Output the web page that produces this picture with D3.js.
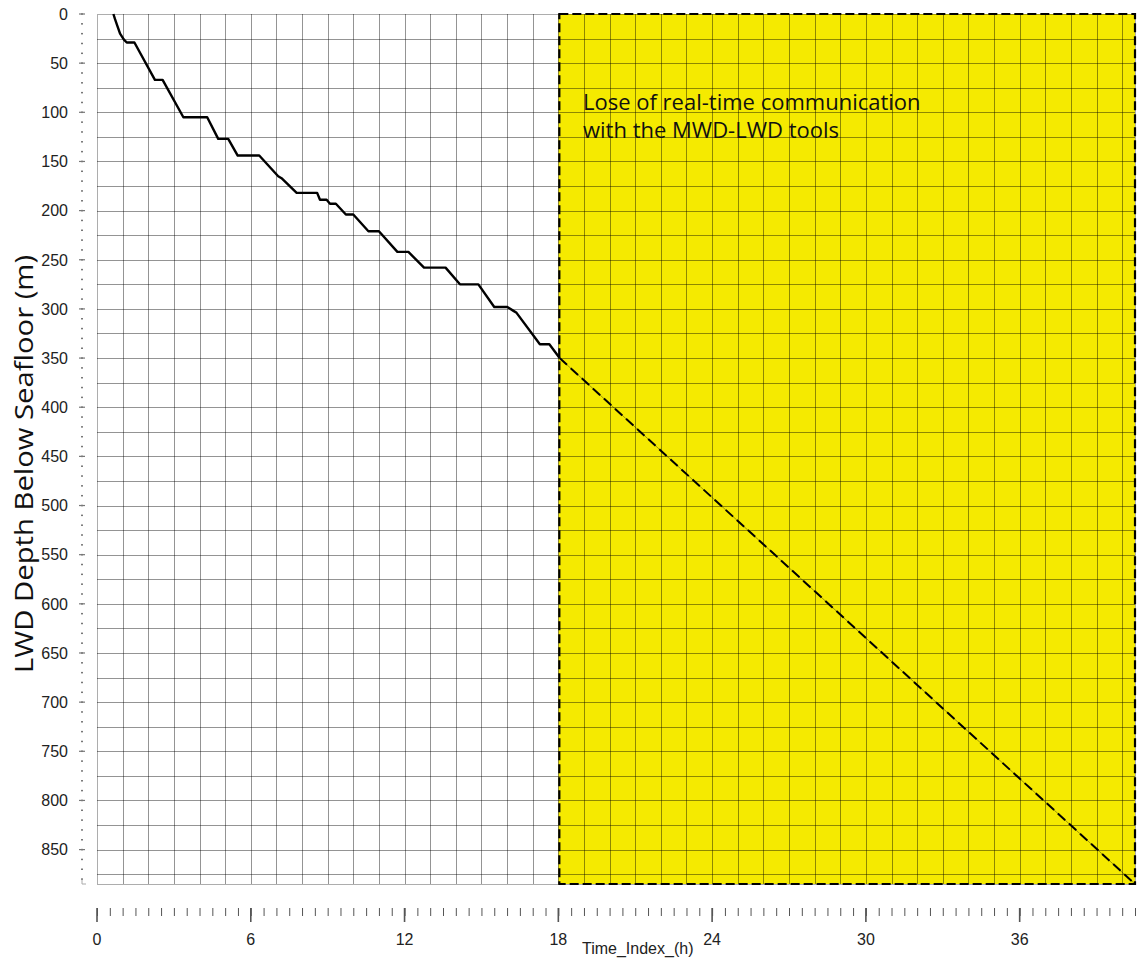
<!DOCTYPE html>
<html>
<head>
<meta charset="utf-8">
<script src="https://cdn.jsdelivr.net/npm/d3@7"></script>
<style>
  html, body { margin: 0; padding: 0; background: #fff; }
  svg { display: block; }
</style>
</head>
<body>
<svg id="chart" width="1137" height="962"></svg>
<script>
// Recorded LWD depth below seafloor against elapsed time (hours, metres)
const timeH  = [0.64, 0.70, 0.78, 0.90, 1.05, 1.16, 1.46, 2.26, 2.56, 3.37, 4.30, 4.73, 5.12, 5.49, 6.33,
                7.07, 7.20, 7.79, 8.59, 8.70, 8.96, 9.09, 9.32, 9.71, 10.00, 10.59, 11.00, 11.72, 12.15,
                12.76, 13.60, 14.16, 14.88, 15.50, 16.01, 16.25, 16.37, 17.28, 17.65, 18.05];
const depthM = [0, 5, 11, 20, 26, 29, 29, 67, 67, 105, 105, 127, 127, 144, 144,
                165, 167, 182, 182, 189, 189, 193, 193, 204, 204, 221, 221, 242, 242,
                258, 258, 275, 275, 298, 298, 302, 304, 336, 336, 350];

// Projected depth once real-time telemetry is lost
const projTimeH  = [18.05, 40.5];
const projDepthM = [350, 885];

// Window without real-time communication (hours)
const lossWindow = [18, 40.5];

// Axis ticks and extents
const xMajorTicks = [0, 6, 12, 18, 24, 30, 36];
const yMajorTicks = [0, 50, 100, 150, 200, 250, 300, 350, 400, 450, 500, 550, 600, 650, 700, 750, 800, 850];
const xDomain = [0, 40.5];
const yDomain = [0, 885];

const annotationLines = ["Lose of real-time communication", "with the MWD-LWD tools"];
const yTitle = "LWD Depth Below Seafloor (m)";
const xTitle = "Time_Index_(h)";

const svg = d3.select("#chart");
const plot = { left: 97, right: 1135, top: 14, bottom: 884 };

const x = d3.scaleLinear().domain(xDomain).range([plot.left, plot.right]);
const y = d3.scaleLinear().domain(yDomain).range([plot.top, plot.bottom]);

// Yellow band
svg.append("rect")
  .attr("x", x(lossWindow[0])).attr("y", y(yDomain[0]))
  .attr("width", x(lossWindow[1]) - x(lossWindow[0]))
  .attr("height", y(yDomain[1]) - y(yDomain[0]))
  .attr("fill", "#f5ea00");

// Grid: every hour, every 25 m
const grid = svg.append("g").attr("stroke", "rgba(0,0,0,0.42)").attr("stroke-width", 1).attr("shape-rendering", "crispEdges");
grid.selectAll("line.v").data(d3.range(1, 41)).join("line")
  .attr("x1", d => Math.round(x(d)) + 0.5).attr("x2", d => Math.round(x(d)) + 0.5)
  .attr("y1", y(yDomain[0])).attr("y2", y(yDomain[1]));
grid.selectAll("line.h").data(d3.range(25, 885, 25)).join("line")
  .attr("y1", d => Math.round(y(d)) + 0.5).attr("y2", d => Math.round(y(d)) + 0.5)
  .attr("x1", x(xDomain[0])).attr("x2", x(xDomain[1]));

// Frame
svg.append("rect")
  .attr("x", x(0) + 0.5).attr("y", y(0) + 0.5)
  .attr("width", x(xDomain[1]) - x(0)).attr("height", y(yDomain[1]) - y(0))
  .attr("fill", "none").attr("stroke", "rgba(0,0,0,0.32)").attr("stroke-width", 1);

// Recorded depth curve
const line = d3.line().x(d => x(d[0])).y(d => y(d[1]));
svg.append("path")
  .datum(d3.zip(timeH, depthM))
  .attr("d", line)
  .attr("fill", "none").attr("stroke", "#000").attr("stroke-width", 2.4)
  .attr("stroke-linejoin", "round");

// Projection: faint guide plus dashed line
const proj = d3.zip(projTimeH, projDepthM);
svg.append("path").datum(proj).attr("d", line)
  .attr("fill", "none").attr("stroke", "rgba(0,0,0,0.35)").attr("stroke-width", 1);
svg.append("path").datum(proj).attr("d", line)
  .attr("fill", "none").attr("stroke", "#000").attr("stroke-width", 2)
  .attr("stroke-dasharray", "10,5");

// Dashed outline of the band
svg.append("rect")
  .attr("x", x(lossWindow[0]) + 1).attr("y", y(yDomain[0]))
  .attr("width", x(lossWindow[1]) - x(lossWindow[0]) - 1)
  .attr("height", y(yDomain[1]) - y(yDomain[0]))
  .attr("fill", "none").attr("stroke", "#000").attr("stroke-width", 2.2)
  .attr("stroke-dasharray", "9,4");

// Annotation
const ann = svg.append("text")
  .attr("font-family", "'Open Sans', sans-serif").attr("font-size", 22).attr("fill", "#111");
ann.selectAll("tspan").data(annotationLines).join("tspan")
  .attr("x", 583).attr("y", (d, i) => 110 + i * 28)
  .text(d => d);

// Y axis: dotted minor ticks every 10 m, major ticks every 50 m
const yAxisX = 82;
const yAx = svg.append("g");
yAx.selectAll("rect.minor").data(d3.range(0, 885, 10)).join("rect")
  .attr("x", yAxisX - 1).attr("y", d => y(d) - 0.75).attr("width", 2).attr("height", 1.5)
  .attr("fill", "#777");
yAx.selectAll("line.major").data(yMajorTicks).join("line")
  .attr("x1", yAxisX - 3).attr("x2", yAxisX + 3)
  .attr("y1", d => y(d)).attr("y2", d => y(d))
  .attr("stroke", "#777").attr("stroke-width", 1.2);
yAx.append("path")
  .attr("d", `M${yAxisX},${y(yDomain[1]) - 4}V${y(yDomain[1])}H${yAxisX + 4}`)
  .attr("fill", "none").attr("stroke", "#aaa");
yAx.selectAll("text").data(yMajorTicks).join("text")
  .attr("x", 68).attr("y", d => y(d)).attr("dy", "0.36em")
  .attr("text-anchor", "end")
  .attr("font-family", "'Liberation Sans', Arial, sans-serif").attr("font-size", 16).attr("fill", "#222")
  .text(d => d);

// X axis: ticks hang below, minor every half hour
const xAxis = d3.axisBottom(x)
  .tickValues(d3.range(0, 40.51, 0.5))
  .tickSize(8)
  .tickFormat("");
const xAxG = svg.append("g").attr("transform", "translate(0,908)").call(xAxis);
xAxG.select(".domain").remove();
xAxG.selectAll(".tick line").attr("stroke", "#555");
const xMaj = svg.append("g").attr("transform", "translate(0,908)");
xMaj.selectAll("line").data(xMajorTicks).join("line")
  .attr("x1", d => x(d)).attr("x2", d => x(d)).attr("y1", 0).attr("y2", 14)
  .attr("stroke", "#555").attr("stroke-width", 1.6);
xMaj.selectAll("text").data(xMajorTicks).join("text")
  .attr("x", d => x(d)).attr("y", 37)
  .attr("text-anchor", "middle")
  .attr("font-family", "'Liberation Sans', Arial, sans-serif").attr("font-size", 16).attr("fill", "#222")
  .text(d => d);

// Axis titles
svg.append("text")
  .attr("x", 582).attr("y", 954)
  .attr("font-family", "'Liberation Sans', Arial, sans-serif").attr("font-size", 16).attr("fill", "#222")
  .text(xTitle);

svg.append("text")
  .attr("transform", "translate(33,464) rotate(-90)")
  .attr("text-anchor", "middle")
  .attr("font-family", "'Open Sans', sans-serif").attr("font-size", 25).attr("fill", "#111")
  .attr("textLength", 418).attr("lengthAdjust", "spacingAndGlyphs")
  .text(yTitle);
</script>
</body>
</html>
